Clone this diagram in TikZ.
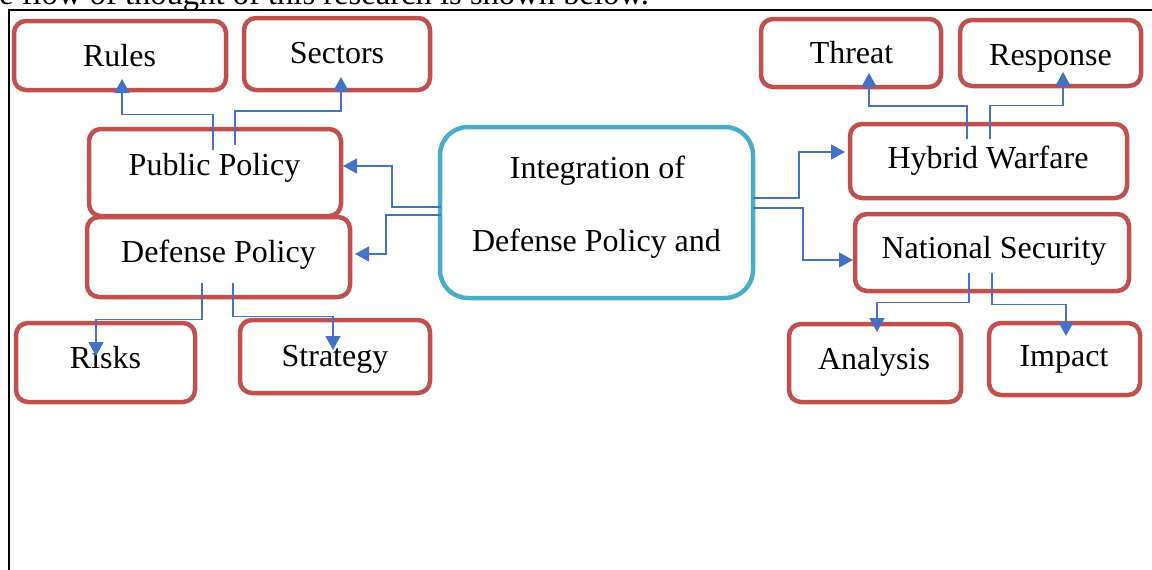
\documentclass[tikz,border=0pt]{standalone}
\usepackage{fontspec}
\setmainfont{Liberation Serif}
\usetikzlibrary{arrows.meta,calc}
\definecolor{boxred}{HTML}{C0504D}
\definecolor{boxteal}{HTML}{4BACC6}
\definecolor{connblue}{HTML}{4472C4}
\begin{document}
\begin{tikzpicture}[x=1pt,y=-1pt,
  redbox/.style={draw=boxred,line width=4.5pt,rounded corners=12pt,fill=white,outer sep=0pt,inner sep=0pt},
  tealbox/.style={draw=boxteal,line width=4.5pt,rounded corners=28pt,fill=white,outer sep=0pt,inner sep=0pt},
  lbl/.style={anchor=base,inner sep=0pt,font=\fontsize{32}{38}\selectfont},
  conn/.style={draw=connblue,line width=1.5pt,-{Triangle[length=14pt,width=15pt]}}]
\useasboundingbox (0,0) rectangle (1152,570);
% heading (cut off at top)
\node[anchor=base west,inner sep=0pt,font=\fontsize{32.6}{38}\selectfont] (head) at (-1,4.5) {e flow of thought of this research is shown below.};
% frame
\draw[line width=2pt] (9,571) -- (9,10) -- (1153,10);
% boxes
\node[redbox,minimum width=212pt,minimum height=69pt] (rules) at (120,55.5) {};
\node[redbox,minimum width=186pt,minimum height=72pt] (sectors) at (337,54) {};
\node[redbox,minimum width=252pt,minimum height=87pt] (pp) at (215,172.5) {};
\node[redbox,minimum width=263pt,minimum height=80pt] (dp) at (218.5,257) {};
\node[redbox,minimum width=179pt,minimum height=79pt] (risks) at (105.5,362.5) {};
\node[redbox,minimum width=190pt,minimum height=73pt] (strategy) at (335,356.5) {};
\node[tealbox,minimum width=313pt,minimum height=171pt] (central) at (596.5,212.5) {};
\node[redbox,minimum width=180pt,minimum height=68pt] (threat) at (851,53) {};
\node[redbox,minimum width=181pt,minimum height=66pt] (response) at (1050.5,53) {};
\node[redbox,minimum width=277pt,minimum height=74pt] (hybrid) at (988.5,161) {};
\node[redbox,minimum width=274pt,minimum height=77pt] (national) at (992,252.5) {};
\node[redbox,minimum width=172pt,minimum height=78pt] (analysis) at (875,363) {};
\node[redbox,minimum width=151pt,minimum height=72pt] (impact) at (1064.5,359) {};
% labels
\node[lbl] (t-rules) at (119.5,66.5) {Rules};
\node[lbl] (t-sectors) at (337,63.3) {Sectors};
\node[lbl] (t-pp) at (214.5,175) {Public Policy};
\node[lbl] (t-dp) at (218.5,262.7) {Defense Policy};
\node[lbl] (t-risks) at (105.5,368.3) {Risks};
\node[lbl] (t-strategy) at (335,366) {Strategy};
\node[lbl] (t-c1) at (597.5,178.3) {Integration of};
\node[lbl] (t-c2) at (596.5,251.7) {Defense Policy and};
\node[lbl] (t-threat) at (851.5,63.3) {Threat};
\node[lbl] (t-response) at (1050.5,65.7) {Response};
\node[lbl] (t-hybrid) at (988,168.3) {Hybrid Warfare};
\node[lbl] (t-national) at (994,258.3) {National Security};
\node[lbl] (t-analysis) at (874,369.3) {Analysis};
\node[lbl] (t-impact) at (1064,366.7) {Impact};
% connector end points
\coordinate (a1) at ($(pp.center)+(-2,-22.5)$);
\coordinate (b1) at ($(rules.center)+(2,23.5)$);
\coordinate (a2) at ($(pp.center)+(20,-27.5)$);
\coordinate (b2) at ($(sectors.center)+(4,23)$);
\coordinate (a3) at ($(central.west)+(1,-5.5)$);
\coordinate (b3) at ($(pp.east)+(2,-6.5)$);
\coordinate (a4) at ($(central.west)+(1,2.5)$);
\coordinate (b4) at ($(dp.east)+(5,-3)$);
\coordinate (a5) at ($(dp.center)+(-16.5,26)$);
\coordinate (b5) at ($(risks.center)+(-9.5,-6.5)$);
\coordinate (a6) at ($(dp.center)+(14.5,26)$);
\coordinate (b6) at ($(strategy.center)+(-2,-6.5)$);
\coordinate (a7) at ($(central.east)+(0,-14.5)$);
\coordinate (b7) at ($(hybrid.west)+(-5,-9)$);
\coordinate (a8) at ($(central.east)+(0,-4.5)$);
\coordinate (b8) at ($(national.west)+(-2,7.5)$);
\coordinate (a9) at ($(hybrid.center)+(-21.5,-22)$);
\coordinate (b9) at ($(threat.center)+(18,20)$);
\coordinate (a10) at ($(hybrid.center)+(1.5,-22)$);
\coordinate (b10) at ($(response.center)+(12.5,19)$);
\coordinate (a11) at ($(national.center)+(-23,20.5)$);
\coordinate (b11) at ($(analysis.center)+(2,-31)$);
\coordinate (a12) at ($(national.center)+(0,20.5)$);
\coordinate (b12) at ($(impact.center)+(1.5,-23)$);
% connectors
\draw[conn] (a1) |- ($(a1)!.5!(b1)$) -| (b1);
\draw[conn] (a2) |- ($(a2)!.5!(b2)$) -| (b2);
\draw[conn] (a3) -| ($(a3)!.5!(b3)$) |- (b3);
\draw[conn] (a4) -- ++(-55,0) |- (b4);
\draw[conn] (a5) |- ($(a5)!.5!(b5)$) -| (b5);
\draw[conn] (a6) |- ($(a6)!.5!(b6)$) -| (b6);
\draw[conn] (a7) -| ($(a7)!.5!(b7)$) |- (b7);
\draw[conn] (a8) -| ($(a8)!.5!(b8)$) |- (b8);
\draw[conn] (a9) |- ($(a9)!.5!(b9)$) -| (b9);
\draw[conn] (a10) |- ($(a10)!.5!(b10)$) -| (b10);
\draw[conn] (a11) |- ($(a11)!.5!(b11)$) -| (b11);
\draw[conn] (a12) |- ($(a12)!.5!(b12)$) -| (b12);
\end{tikzpicture}
\end{document}
